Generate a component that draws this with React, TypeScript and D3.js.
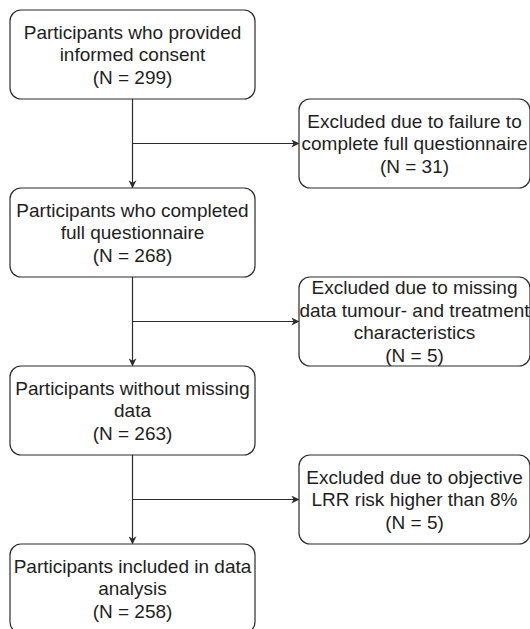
import React from 'react';
import * as d3 from 'd3';

// flow steps (main column)
const stepLabels = [
    ['Participants who provided', 'informed consent'],
    ['Participants who completed', 'full questionnaire'],
    ['Participants without missing', 'data'],
    ['Participants included in data', 'analysis'],
];
const stepCounts = [299, 268, 263, 258];

// exclusions (side column), one between each pair of steps
const exclusionLabels = [
    ['Excluded due to failure to', 'complete full questionnaire'],
    ['Excluded due to missing', 'data tumour- and treatment', 'characteristics'],
    ['Excluded due to objective', 'LRR risk higher than 8%'],
];
const exclusionCounts = [31, 5, 5];

const W = 530;
const H = 629;
const boxH = 89;
const lineH = 22.5;
const stroke = '#2b2b2b';
const textColor = '#1e1e1e';

function Box({ x, y, w, h, lines }: { x: number; y: number; w: number; h: number; lines: string[] }) {
    const cx = x + w / 2;
    const cy = y + h / 2;
    const first = cy - ((lines.length - 1) * lineH) / 2;
    return (
        <g>
            <rect x={x} y={y} width={w} height={h} rx={11} ry={11}
                  fill="#fff" stroke={stroke} strokeWidth={1.2}/>
            {lines.map((l, i) => (
                <text key={i} x={cx} y={first + i * lineH} dy="0.35em"
                      textAnchor="middle" fill={textColor}
                      style={{ fontSize: '19px', fontFamily: '"Liberation Sans", Arial, sans-serif' }}>
                    {l}
                </text>
            ))}
        </g>
    );
}

export default function App() {
    // vertical placement of the main steps
    const y = d3.scaleLinear().domain([0, stepCounts.length - 1]).range([10, 544]);
    // horizontal columns
    const x = d3.scaleOrdinal<string, number>().domain(['main', 'side']).range([10, 299]);
    const mainW = 245;
    const sideW = 231;
    const cxMain = x('main') + mainW / 2;

    const line = d3.line();

    return (
        <svg width={W} height={H} style={{ position: 'absolute', left: 0, top: 0, background: '#fff' }}>
            <defs>
                <marker id="arr" viewBox="0 0 10 10" refX="9" refY="5"
                        markerWidth="8" markerHeight="8" markerUnits="userSpaceOnUse" orient="auto">
                    <path d="M0,0 L10,5 L0,10 L3,5 Z" fill={stroke}/>
                </marker>
            </defs>

            {stepCounts.slice(1).map((_, i) => {
                const top = y(i) + boxH;
                const bottom = y(i + 1);
                const mid = (top + bottom) / 2;
                return (
                    <g key={'l' + i}>
                        <path d={line([[cxMain, top], [cxMain, bottom - 0.5]]) || ''}
                              stroke={stroke} strokeWidth={1.2} fill="none" markerEnd="url(#arr)"/>
                        <path d={line([[cxMain, mid], [x('side') - 0.5, mid]]) || ''}
                              stroke={stroke} strokeWidth={1.2} fill="none" markerEnd="url(#arr)"/>
                    </g>
                );
            })}

            {stepCounts.map((n, i) => (
                <Box key={'s' + i} x={x('main')} y={y(i)} w={mainW} h={boxH}
                     lines={[...stepLabels[i], '(N = ' + n + ')']}/>
            ))}

            {exclusionCounts.map((n, i) => {
                const mid = (y(i) + boxH + y(i + 1)) / 2;
                return (
                    <Box key={'e' + i} x={x('side')} y={mid - boxH / 2} w={sideW} h={boxH}
                         lines={[...exclusionLabels[i], '(N = ' + n + ')']}/>
                );
            })}
        </svg>
    );
}
